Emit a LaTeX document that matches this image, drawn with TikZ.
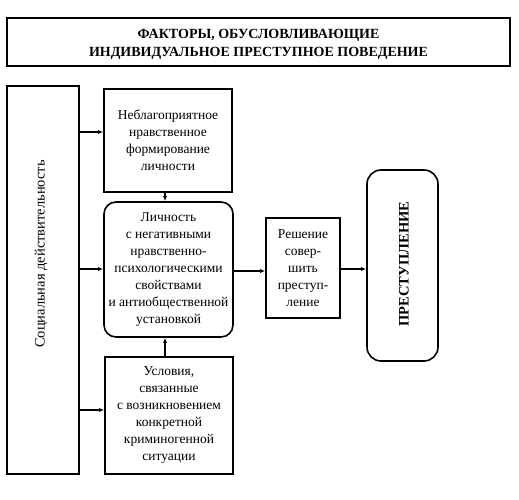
\documentclass[tikz,border=0pt]{standalone}
\usepackage{fontspec}
\setmainfont{Liberation Serif}
\usetikzlibrary{arrows.meta}
\begin{document}
\begin{tikzpicture}[x=1pt,y=-1pt,
  every node/.style={font=\fontsize{13.5}{17}\selectfont, align=center, inner sep=0pt},
  box/.style={draw, line width=1.6pt},
  rbox/.style={draw, line width=1.6pt, rounded corners=12pt},
  arr/.style={-{Latex[length=5pt,width=4pt]}, line width=1.3pt}]
\useasboundingbox (0,0) rectangle (519,500);
\node[box, minimum width=503pt, minimum height=48pt] (title) at (258.5,42) {};
\node[font=\bfseries\fontsize{14}{18}\selectfont] (titletext) at (258.5,44.5)
  {ФАКТОРЫ, ОБУСЛОВЛИВАЮЩИЕ\\ИНДИВИДУАЛЬНОЕ ПРЕСТУПНОЕ ПОВЕДЕНИЕ};
\node[box, minimum width=72pt, minimum height=388pt] (left) at (43,280) {};
\node[rotate=90, font=\fontsize{14.5}{17}\selectfont] (lefttext) at (41,254) {Социальная действительность};
\node[box, minimum width=128pt, minimum height=103pt] (b1) at (168,140.5)
  {Неблагоприятное\\нравственное\\формирование\\личности};
\node[rbox, minimum width=129pt, minimum height=135pt] (b2) at (168.5,269.5)
  {Личность\\с негативными\\нравственно-\\психологическими\\свойствами\\и антиобщественной\\установкой};
\node[box, minimum width=128pt, minimum height=117pt] (b3) at (169,415.5)
  {Условия,\\связанные\\с возникновением\\конкретной\\криминогенной\\ситуации};
\node[box, minimum width=74pt, minimum height=100pt] (dec) at (303,268)
  {Решение\\совер-\\шить\\преступ-\\ление};
\node[rbox, rounded corners=14pt, minimum width=71pt, minimum height=191pt] (crime) at (402.5,265.5) {};
\node[rotate=90, font=\bfseries\fontsize{14.5}{17}\selectfont] (crimetext) at (404,264) {ПРЕСТУПЛЕНИЕ};
\draw[arr] (left.east |- 0,132) -- (b1.west |- 0,132);
\draw[arr] (left.east |- 0,269) -- (b2.west |- 0,269);
\draw[arr] (left.east |- 0,410) -- (b3.west |- 0,410);
\draw[arr] (b1.south -| 165,0) -- (b2.north -| 165,0);
\draw[arr] (b3.north -| 165,0) -- (b2.south -| 165,0);
\draw[arr] (b2.east |- 0,271) -- (dec.west |- 0,271);
\draw[arr] (dec.east |- 0,269) -- (crime.west |- 0,269);
\end{tikzpicture}
\end{document}
